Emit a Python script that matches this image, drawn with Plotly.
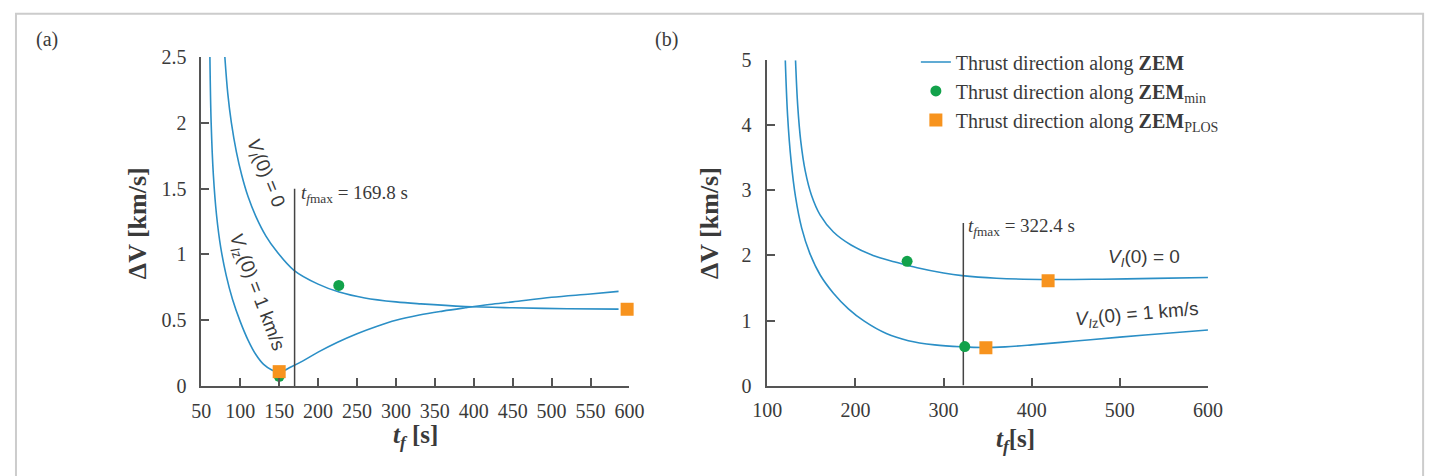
import plotly.graph_objects as go

# ---------------- data ----------------
# Panel (a)
ta_v0 = [80.2, 84, 88.6, 95, 102, 110, 120, 133, 146, 169, 200, 227, 260, 300, 332, 389, 450, 520, 586]
dva_v0 = [2.5, 2.22, 2.0, 1.78, 1.6, 1.44, 1.29, 1.14, 1.03, 0.88, 0.775, 0.715, 0.67, 0.64, 0.625, 0.605, 0.595, 0.588, 0.585]
ta_v1 = [61, 62.6, 65.5, 69.5, 75, 82, 90, 100, 110, 120, 130, 140, 150, 165, 180, 200, 225, 250, 275,
         300, 330, 360, 389, 420, 450, 500, 550, 586]
dva_v1 = [2.5, 2.0, 1.6, 1.3, 1.05, 0.84, 0.66, 0.49, 0.35, 0.24, 0.165, 0.125, 0.105, 0.145, 0.19, 0.258, 0.333,
          0.398, 0.453, 0.50, 0.54, 0.57, 0.595, 0.62, 0.64, 0.675, 0.70, 0.72]
a_green_t = [150, 226.6]
a_green_dv = [0.075, 0.765]
a_orange_t = [150, 597]
a_orange_dv = [0.11, 0.584]
tfmax_a = 169.8
tfmax_a_top = 1.5

# Panel (b)
tb_v0 = [132, 134.5, 138, 143, 150, 160, 175, 195, 220, 245, 270, 300, 321, 360, 420, 480, 540, 600]
dvb_v0 = [5, 4.3, 3.75, 3.3, 2.93, 2.62, 2.36, 2.16, 2.0, 1.9, 1.81, 1.73, 1.69, 1.65, 1.63, 1.635, 1.648, 1.66]
tb_v1 = [120.4, 123, 127, 132, 139, 148, 160, 175, 192, 210, 235, 260, 290, 321, 345, 370, 400, 450, 500, 550, 600]
dvb_v1 = [5, 4.15, 3.45, 2.9, 2.42, 2.04, 1.70, 1.42, 1.18, 0.99, 0.80, 0.69, 0.625, 0.595, 0.585, 0.595, 0.625,
          0.685, 0.745, 0.80, 0.855]
b_green_t = [258.6, 324]
b_green_dv = [1.91, 0.60]
b_orange_t = [418.6, 348]
b_orange_dv = [1.61, 0.58]
tfmax_b = 322.4
tfmax_b_top = 2.5

xticks_a = list(range(50, 601, 50))
yticks_a = [0, 0.5, 1, 1.5, 2, 2.5]
ytext_a = ["0", "0.5", "1", "1.5", "2", "2.5"]
xticks_b = [100, 200, 300, 400, 500, 600]
yticks_b = [0, 1, 2, 3, 4, 5]

# ---------------- styling ----------------
W, H = 1443, 476
def px(x):
    return x / W
def py(y):
    return 1 - y / H

BLUE = "#2b8fc6"
GREEN = "#12a24b"
ORANGE = "#f7931e"
AX = "#555555"
TXT = "#3a3a3a"
SERIF = "Liberation Serif"
SANS = "Liberation Sans"

fig = go.Figure()
LINE = dict(color=BLUE, width=1.6, shape="spline", smoothing=1.0)

# ---- panel (b) first so legend entries come from it ----
fig.add_trace(go.Scatter(x=tb_v0, y=dvb_v0, mode="lines", line=LINE,
                         xaxis="x2", yaxis="y2", name="Thrust direction along <b>ZEM</b>", showlegend=True))
fig.add_trace(go.Scatter(x=tb_v1, y=dvb_v1, mode="lines", line=LINE,
                         xaxis="x2", yaxis="y2", showlegend=False))
fig.add_trace(go.Scatter(x=[tfmax_b, tfmax_b], y=[0, tfmax_b_top], mode="lines", line=dict(color="#444444", width=1.5),
                         xaxis="x2", yaxis="y2", showlegend=False))
fig.add_trace(go.Scatter(x=b_green_t, y=b_green_dv, mode="markers", marker=dict(color=GREEN, size=11, symbol="circle"),
                         xaxis="x2", yaxis="y2", name="Thrust direction along <b>ZEM</b><sub>min</sub>", showlegend=True))
fig.add_trace(go.Scatter(x=b_orange_t, y=b_orange_dv, mode="markers", marker=dict(color=ORANGE, size=13, symbol="square"),
                         xaxis="x2", yaxis="y2", name="Thrust direction along <b>ZEM</b><sub>PLOS</sub>", showlegend=True))

# ---- panel (a) ----
fig.add_trace(go.Scatter(x=ta_v0, y=dva_v0, mode="lines", line=LINE,
                         xaxis="x", yaxis="y", showlegend=False))
fig.add_trace(go.Scatter(x=ta_v1, y=dva_v1, mode="lines", line=LINE,
                         xaxis="x", yaxis="y", showlegend=False))
fig.add_trace(go.Scatter(x=[tfmax_a, tfmax_a], y=[0, tfmax_a_top], mode="lines", line=dict(color="#444444", width=1.5),
                         xaxis="x", yaxis="y", showlegend=False))
fig.add_trace(go.Scatter(x=a_green_t, y=a_green_dv, mode="markers", marker=dict(color=GREEN, size=11, symbol="circle"),
                         xaxis="x", yaxis="y", showlegend=False, cliponaxis=False))
fig.add_trace(go.Scatter(x=a_orange_t, y=a_orange_dv, mode="markers", marker=dict(color=ORANGE, size=13, symbol="square"),
                         xaxis="x", yaxis="y", showlegend=False, cliponaxis=False))

common_axis = dict(showline=True, linecolor=AX, linewidth=1.5, ticks="inside", ticklen=8, tickwidth=1.5,
                   tickcolor=AX, showgrid=False, zeroline=False, tickfont=dict(family=SERIF, size=20, color=TXT))

fig.update_layout(
    width=W, height=H, autosize=False,
    margin=dict(l=0, r=0, t=0, b=0, pad=0),
    paper_bgcolor="white", plot_bgcolor="white",
    xaxis=dict(domain=[px(190.3), px(627.5)], range=[50, 600], tickvals=xticks_a, anchor="y",
               ticklabelstandoff=6, **common_axis),
    yaxis=dict(domain=[py(393.3), py(48.3)], range=[0, 2.5], tickvals=yticks_a, ticktext=ytext_a, anchor="x",
               ticklabelstandoff=9, **common_axis),
    xaxis2=dict(domain=[px(768.3), px(1218.3)], range=[100, 600], tickvals=xticks_b, anchor="y2",
                ticklabelstandoff=6, **common_axis),
    yaxis2=dict(domain=[py(392.7), py(51.7)], range=[0, 5], tickvals=yticks_b, anchor="x2",
                ticklabelstandoff=10, **common_axis),
    legend=dict(x=px(920), y=py(33), xanchor="left", yanchor="top", bgcolor="rgba(0,0,0,0)",
                font=dict(family=SERIF, size=20, color=TXT), itemwidth=30, traceorder="normal"),
    showlegend=True,
)

ann = []
def A(x, y, text, size=20, family=SERIF, angle=0, xanchor="center", yanchor="middle"):
    ann.append(dict(x=px(x), y=py(y), xref="paper", yref="paper", text=text, showarrow=False,
                    font=dict(family=family, size=size, color=TXT), textangle=angle,
                    xanchor=xanchor, yanchor=yanchor))

A(33, 30, "(a)", size=20)
A(665, 30, "(b)", size=20)
A(125, 222, "<b>ΔV [km/s]</b>", size=26, angle=-90)
A(709, 222, "<b>ΔV [km/s]</b>", size=26, angle=-90)
A(409, 446, "<b><i>t</i><sub><i>f</i></sub> [s]</b>", size=25)
A(1022, 450, "<b><i>t</i><sub><i>f</i></sub>[s]</b>", size=25)
A(255, 170, "<i>V</i><sub><i>I</i></sub>(0) = 0", size=19, family=SANS, angle=68)
A(246, 295, "<i>V</i><sub><i>I</i>z</sub>(0) = 1 km/s", size=19, family=SANS, angle=69)
A(290, 192, "<i>t</i><sub><i>f</i>max</sub> = 169.8 s", size=19, xanchor="left")
A(971, 226, "<i>t</i><sub><i>f</i>max</sub> = 322.4 s", size=19, xanchor="left")
A(1153, 259, "<i>V</i><sub><i>I</i></sub>(0) = 0", size=19, family=SANS)
A(1146, 319, "<i>V</i><sub><i>I</i>z</sub>(0) = 1 km/s", size=19, family=SANS, angle=-5)
fig.update_layout(annotations=ann)

fig.add_shape(type="rect", xref="paper", yref="paper", x0=px(1), x1=px(1438), y0=-0.05, y1=py(3),
              line=dict(color="#cccccc", width=2), fillcolor="rgba(0,0,0,0)", layer="below")

fig.write_html("out.html")
